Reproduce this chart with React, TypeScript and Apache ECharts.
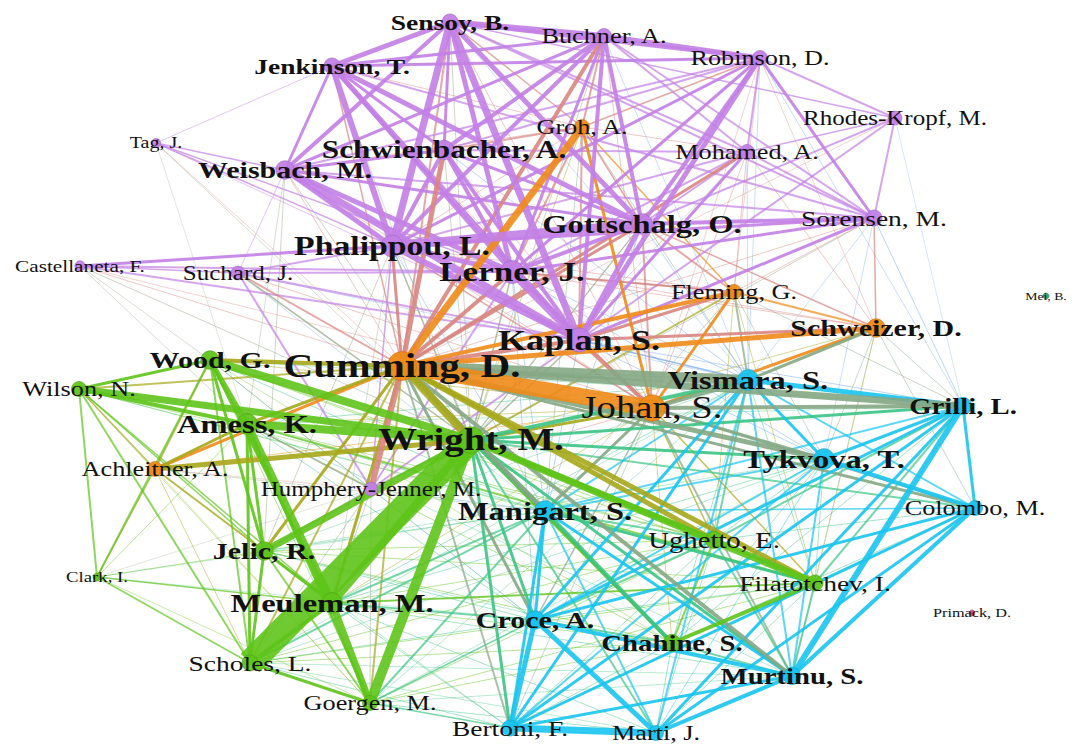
import React, { useEffect, useRef } from "react";
import * as echarts from "echarts";

// ---- Nodes (authors) ----
const nodeKeys = [
  "Sensoy", "Buchner", "Robinson", "Jenkinson", "RhodesKropf", "Tag", "Groh", "Mohamed",
  "Schwienbacher", "Weisbach", "Gottschalg", "Sorensen", "Phalippou", "Castellaneta", "Suchard",
  "Lerner", "Fleming", "Mei", "Schweizer", "Kaplan", "Wood", "Cumming", "Vismara", "Wilson",
  "Johan", "Grilli", "Amess", "Wright", "Tykvova", "Achleitner", "Humphery", "Manigart",
  "Colombo", "Ughetto", "Jelic", "Clark", "Filatotchev", "Meuleman", "Primack", "Croce",
  "Chahine", "Scholes", "Murtinu", "Goergen", "Bertoni", "Marti",
];
const nodeLabels = [
  "Sensoy, B.", "Buchner, A.", "Robinson, D.", "Jenkinson, T.", "Rhodes-Kropf, M.", "Tag, J.",
  "Groh, A.", "Mohamed, A.", "Schwienbacher, A.", "Weisbach, M.", "Gottschalg, O.", "Sorensen, M.",
  "Phalippou, L.", "Castellaneta, F.", "Suchard, J.", "Lerner, J.", "Fleming, G.", "Mei, B.",
  "Schweizer, D.", "Kaplan, S.", "Wood, G.", "Cumming, D.", "Vismara, S.", "Wilson, N.",
  "Johan, S.", "Grilli, L.", "Amess, K.", "Wright, M.", "Tykvova, T.", "Achleitner, A.",
  "Humphery-Jenner, M.", "Manigart, S.", "Colombo, M.", "Ughetto, E.", "Jelic, R.", "Clark, I.",
  "Filatotchev, I.", "Meuleman, M.", "Primack, D.", "Croce, A.", "Chahine, S.", "Scholes, L.",
  "Murtinu, S.", "Goergen, M.", "Bertoni, F.", "Marti, J.",
];
// layout coordinates of the network
const layoutX = [
  450, 604, 760, 332, 895, 156, 582, 747, 444, 285, 642, 874, 392, 80, 238, 512, 734, 1046, 876,
  579, 210, 402, 748, 79, 652, 963, 247, 471, 824, 155, 371, 545, 975, 714, 264, 97, 815, 332,
  972, 535, 672, 250, 792, 370, 510, 656,
];
const layoutY = [
  22, 36, 58, 66, 118, 143, 127, 152, 150, 170, 224, 218, 246, 266, 273, 272, 292, 296, 328, 340,
  360, 366, 380, 389, 408, 406, 424, 440, 459, 469, 489, 511, 508, 540, 551, 577, 583, 603, 613,
  620, 643, 663, 676, 703, 728, 733,
];
// cluster: 0 purple, 1 orange, 2 green, 3 cyan, 4 teal, 5 red
const nodeCluster = [
  0, 0, 0, 0, 0, 0, 1, 0, 0, 0, 0, 0, 0, 0, 0, 0, 1, 4, 1, 0, 2, 1, 3, 2, 1, 3, 2, 2, 3, 1, 0, 3,
  3, 2, 2, 2, 2, 2, 5, 3, 2, 2, 3, 2, 3, 3,
];
// node weight (citation strength)
const nodeWeight = [
  22, 21, 21, 22, 20, 16, 21, 21, 25, 24, 26, 22, 27, 17, 20, 28, 21, 11, 24, 29, 24, 33, 26, 21,
  31, 23, 26, 31, 26, 21, 20, 26, 21, 23, 24, 15, 22, 26, 13, 24, 23, 22, 23, 21, 22, 21,
];

// ---- Links (source, target, strength) ----
const links: [string, string, number][] = [
  // purple cluster
  ["Sensoy", "Buchner", 6], ["Sensoy", "Jenkinson", 5], ["Sensoy", "Robinson", 4], ["Sensoy", "Phalippou", 7],
  ["Sensoy", "Kaplan", 7], ["Sensoy", "Lerner", 5], ["Sensoy", "Weisbach", 4], ["Sensoy", "Gottschalg", 5],
  ["Sensoy", "Schwienbacher", 3], ["Sensoy", "Mohamed", 2], ["Sensoy", "Sorensen", 2], ["Sensoy", "RhodesKropf", 1.5],
  ["Sensoy", "Cumming", 2], ["Buchner", "Robinson", 5], ["Buchner", "Schwienbacher", 4], ["Buchner", "Cumming", 4],
  ["Buchner", "Jenkinson", 3], ["Buchner", "Phalippou", 4], ["Buchner", "Kaplan", 4], ["Buchner", "Lerner", 3],
  ["Buchner", "Gottschalg", 4], ["Buchner", "Weisbach", 3], ["Buchner", "Mohamed", 2], ["Buchner", "Sorensen", 2],
  ["Buchner", "Groh", 2], ["Robinson", "Jenkinson", 3], ["Robinson", "Kaplan", 5], ["Robinson", "Gottschalg", 4],
  ["Robinson", "Phalippou", 3], ["Robinson", "Sorensen", 3], ["Robinson", "RhodesKropf", 2], ["Robinson", "Lerner", 3],
  ["Robinson", "Mohamed", 2], ["Robinson", "Weisbach", 2], ["Robinson", "Schwienbacher", 2], ["Jenkinson", "Phalippou", 6],
  ["Jenkinson", "Kaplan", 5], ["Jenkinson", "Lerner", 4], ["Jenkinson", "Weisbach", 3], ["Jenkinson", "Gottschalg", 5],
  ["Jenkinson", "Schwienbacher", 3], ["Jenkinson", "Tag", 1], ["Jenkinson", "Sorensen", 2], ["Jenkinson", "Cumming", 1.5],
  ["Weisbach", "Phalippou", 5], ["Weisbach", "Kaplan", 7], ["Weisbach", "Lerner", 5], ["Weisbach", "Gottschalg", 3],
  ["Weisbach", "Tag", 1.5], ["Weisbach", "Schwienbacher", 3], ["Weisbach", "Sorensen", 2], ["Weisbach", "Suchard", 1],
  ["Tag", "Phalippou", 1.5], ["Tag", "Lerner", 1.5], ["Tag", "Kaplan", 1], ["Phalippou", "Gottschalg", 9],
  ["Phalippou", "Kaplan", 6], ["Phalippou", "Lerner", 5], ["Phalippou", "Castellaneta", 3], ["Phalippou", "Schwienbacher", 4],
  ["Phalippou", "Sorensen", 3], ["Phalippou", "Suchard", 2], ["Phalippou", "Mohamed", 2], ["Phalippou", "Cumming", 3],
  ["Lerner", "Kaplan", 8], ["Lerner", "Gottschalg", 4], ["Lerner", "Schwienbacher", 4], ["Lerner", "Castellaneta", 2],
  ["Lerner", "Suchard", 2], ["Lerner", "Cumming", 4], ["Lerner", "Mohamed", 2], ["Lerner", "Sorensen", 3],
  ["Kaplan", "Gottschalg", 5], ["Kaplan", "Schwienbacher", 4], ["Kaplan", "Sorensen", 3], ["Kaplan", "Mohamed", 3],
  ["Kaplan", "RhodesKropf", 2], ["Kaplan", "Castellaneta", 2], ["Kaplan", "Suchard", 2], ["Kaplan", "Cumming", 4],
  ["Kaplan", "Fleming", 3], ["Kaplan", "Schweizer", 3], ["Kaplan", "Johan", 4], ["Kaplan", "Humphery", 2],
  ["Gottschalg", "Sorensen", 4], ["Gottschalg", "Mohamed", 2], ["Gottschalg", "RhodesKropf", 2], ["Gottschalg", "Schwienbacher", 3],
  ["Sorensen", "RhodesKropf", 2], ["Sorensen", "Mohamed", 2], ["Schwienbacher", "Cumming", 5], ["Schwienbacher", "Mohamed", 2],
  ["Mohamed", "Cumming", 3], ["Mohamed", "RhodesKropf", 1.5], ["Castellaneta", "Suchard", 1.5], ["Castellaneta", "Cumming", 1],
  ["Castellaneta", "Wright", 1], ["Suchard", "Cumming", 2], ["Suchard", "Humphery", 2], ["Suchard", "Wright", 1.5],
  ["Humphery", "Cumming", 6], ["Humphery", "Wright", 2], ["Humphery", "Lerner", 2], ["Humphery", "Phalippou", 1.5],
  ["Humphery", "Jelic", 2], ["Humphery", "Amess", 1.5],
  // orange cluster
  ["Groh", "Cumming", 7], ["Groh", "Johan", 3], ["Groh", "Kaplan", 2], ["Groh", "Lerner", 2],
  ["Groh", "Schwienbacher", 2], ["Groh", "Fleming", 1.5], ["Cumming", "Johan", 16], ["Cumming", "Schweizer", 5],
  ["Cumming", "Fleming", 4], ["Cumming", "Achleitner", 3], ["Cumming", "Vismara", 10], ["Cumming", "Grilli", 7],
  ["Cumming", "Wright", 8], ["Cumming", "Wood", 4], ["Cumming", "Amess", 3], ["Cumming", "Manigart", 5],
  ["Cumming", "Tykvova", 5], ["Cumming", "Ughetto", 5], ["Cumming", "Filatotchev", 5], ["Cumming", "Murtinu", 4],
  ["Cumming", "Colombo", 3], ["Cumming", "Croce", 3], ["Cumming", "Chahine", 3], ["Cumming", "Meuleman", 3],
  ["Cumming", "Jelic", 3], ["Cumming", "Wilson", 2], ["Cumming", "Goergen", 2], ["Cumming", "Bertoni", 2],
  ["Cumming", "Scholes", 2], ["Cumming", "Gottschalg", 3], ["Johan", "Schweizer", 3], ["Johan", "Vismara", 4],
  ["Johan", "Grilli", 4], ["Johan", "Fleming", 3], ["Johan", "Tykvova", 3], ["Johan", "Wright", 3],
  ["Johan", "Manigart", 3], ["Johan", "Colombo", 2], ["Johan", "Murtinu", 2], ["Schweizer", "Fleming", 2],
  ["Schweizer", "Vismara", 3], ["Schweizer", "Sorensen", 1.5], ["Schweizer", "Gottschalg", 1.5], ["Fleming", "Gottschalg", 2],
  ["Fleming", "Lerner", 2], ["Fleming", "Vismara", 2], ["Fleming", "Wright", 2], ["Achleitner", "Amess", 3],
  ["Achleitner", "Wright", 5], ["Achleitner", "Wood", 2], ["Achleitner", "Clark", 1.5], ["Achleitner", "Jelic", 2],
  ["Achleitner", "Wilson", 1.5],
  // green cluster
  ["Wright", "Wood", 8], ["Wright", "Wilson", 7], ["Wright", "Amess", 8], ["Wright", "Meuleman", 8],
  ["Wright", "Scholes", 26], ["Wright", "Goergen", 10], ["Wright", "Jelic", 7], ["Wright", "Filatotchev", 7],
  ["Wright", "Ughetto", 5], ["Wright", "Chahine", 3], ["Wright", "Manigart", 4], ["Wright", "Croce", 3],
  ["Wright", "Bertoni", 3], ["Wright", "Tykvova", 3], ["Wright", "Vismara", 4], ["Wright", "Grilli", 3],
  ["Wright", "Murtinu", 3], ["Wright", "Marti", 2], ["Wright", "Colombo", 2], ["Amess", "Wilson", 4],
  ["Amess", "Jelic", 3], ["Amess", "Meuleman", 8], ["Amess", "Scholes", 3], ["Amess", "Wood", 5],
  ["Amess", "Goergen", 3], ["Amess", "Filatotchev", 2], ["Wood", "Wilson", 3], ["Wood", "Jelic", 3],
  ["Wood", "Meuleman", 3], ["Wood", "Scholes", 2], ["Wilson", "Clark", 2], ["Wilson", "Scholes", 2],
  ["Wilson", "Jelic", 1.5], ["Wilson", "Meuleman", 1.5], ["Clark", "Scholes", 1.5], ["Clark", "Meuleman", 1.5],
  ["Clark", "Wood", 2], ["Meuleman", "Scholes", 4], ["Meuleman", "Goergen", 7], ["Meuleman", "Jelic", 3],
  ["Meuleman", "Manigart", 2], ["Meuleman", "Croce", 2], ["Meuleman", "Filatotchev", 2], ["Jelic", "Scholes", 3],
  ["Jelic", "Goergen", 2], ["Scholes", "Goergen", 3], ["Goergen", "Bertoni", 1.5], ["Goergen", "Croce", 1.5],
  ["Manigart", "Croce", 3], ["Manigart", "Chahine", 4], ["Manigart", "Murtinu", 3], ["Manigart", "Bertoni", 3],
  ["Manigart", "Marti", 2], ["Manigart", "Filatotchev", 3], ["Manigart", "Ughetto", 2], ["Manigart", "Scholes", 2],
  ["Manigart", "Goergen", 2], ["Filatotchev", "Chahine", 4], ["Filatotchev", "Ughetto", 3], ["Filatotchev", "Murtinu", 2],
  ["Filatotchev", "Grilli", 2], ["Chahine", "Ughetto", 2], ["Chahine", "Croce", 2], ["Chahine", "Murtinu", 2],
  ["Ughetto", "Grilli", 2], ["Ughetto", "Croce", 2], ["Ughetto", "Murtinu", 2], ["Ughetto", "Vismara", 2],
  // cyan cluster
  ["Croce", "Bertoni", 5], ["Croce", "Marti", 5], ["Croce", "Murtinu", 4], ["Croce", "Grilli", 3],
  ["Croce", "Colombo", 3], ["Croce", "Vismara", 3], ["Bertoni", "Marti", 7], ["Bertoni", "Murtinu", 3],
  ["Bertoni", "Grilli", 3], ["Bertoni", "Colombo", 3], ["Bertoni", "Vismara", 3], ["Marti", "Murtinu", 4],
  ["Marti", "Grilli", 3], ["Marti", "Colombo", 3], ["Marti", "Vismara", 2], ["Murtinu", "Grilli", 6],
  ["Murtinu", "Colombo", 4], ["Murtinu", "Vismara", 2], ["Murtinu", "Tykvova", 2], ["Grilli", "Colombo", 3],
  ["Grilli", "Tykvova", 3], ["Grilli", "Vismara", 5], ["Colombo", "Tykvova", 4], ["Colombo", "Vismara", 2],
  ["Tykvova", "Vismara", 3], ["Tykvova", "Croce", 2], ["Tykvova", "Bertoni", 2], ["Tykvova", "Manigart", 2],
  ["Vismara", "Manigart", 2], ["Grilli", "Manigart", 2], ["Colombo", "Manigart", 1.5],
  // weak cross links
  ["Tag", "Cumming", 0.8], ["Tag", "Wright", 0.8], ["Castellaneta", "Wood", 0.8], ["Castellaneta", "Amess", 0.8],
  ["Castellaneta", "Johan", 0.8], ["Suchard", "Manigart", 0.8], ["Suchard", "Johan", 1], ["Suchard", "Vismara", 0.8],
  ["Weisbach", "Wright", 1], ["Weisbach", "Cumming", 1], ["Jenkinson", "Wright", 0.8], ["Sensoy", "Wright", 1],
  ["Sensoy", "Vismara", 0.8], ["Buchner", "Vismara", 0.8], ["Buchner", "Wright", 1], ["Robinson", "Vismara", 0.8],
  ["Robinson", "Cumming", 1], ["Robinson", "Grilli", 0.8], ["RhodesKropf", "Cumming", 0.8], ["RhodesKropf", "Grilli", 0.6],
  ["Sorensen", "Cumming", 1], ["Sorensen", "Vismara", 0.8], ["Sorensen", "Grilli", 1], ["Sorensen", "Wright", 1],
  ["Sorensen", "Tykvova", 0.8], ["Mohamed", "Wright", 0.8], ["Mohamed", "Vismara", 0.8], ["Gottschalg", "Wright", 1.2],
  ["Gottschalg", "Vismara", 1], ["Gottschalg", "Manigart", 1], ["Lerner", "Wright", 1.5], ["Lerner", "Vismara", 1],
  ["Lerner", "Manigart", 1], ["Lerner", "Croce", 1], ["Lerner", "Tykvova", 1], ["Kaplan", "Wright", 1.5],
  ["Kaplan", "Vismara", 1.5], ["Kaplan", "Manigart", 1], ["Kaplan", "Grilli", 1], ["Kaplan", "Tykvova", 1],
  ["Phalippou", "Wright", 1.5], ["Phalippou", "Jelic", 1], ["Phalippou", "Meuleman", 0.8], ["Phalippou", "Manigart", 1],
  ["Schwienbacher", "Wright", 1], ["Schwienbacher", "Vismara", 1], ["Schwienbacher", "Johan", 1], ["Groh", "Wright", 1],
  ["Groh", "Vismara", 1], ["Groh", "Manigart", 1], ["Fleming", "Grilli", 1], ["Fleming", "Tykvova", 1],
  ["Fleming", "Manigart", 1], ["Fleming", "Ughetto", 1], ["Fleming", "Filatotchev", 1], ["Schweizer", "Grilli", 1],
  ["Schweizer", "Tykvova", 1], ["Schweizer", "Colombo", 1], ["Schweizer", "Wright", 1], ["Schweizer", "Murtinu", 0.8],
  ["Schweizer", "Filatotchev", 0.8], ["Johan", "Ughetto", 1.5], ["Johan", "Filatotchev", 1.5], ["Johan", "Croce", 1.5],
  ["Johan", "Bertoni", 1], ["Johan", "Chahine", 1], ["Johan", "Amess", 1], ["Johan", "Wood", 1],
  ["Johan", "Meuleman", 1], ["Vismara", "Filatotchev", 1], ["Vismara", "Chahine", 1], ["Vismara", "Wood", 1],
  ["Vismara", "Amess", 1], ["Tykvova", "Ughetto", 1], ["Tykvova", "Filatotchev", 1], ["Tykvova", "Chahine", 1],
  ["Tykvova", "Marti", 1], ["Tykvova", "Jelic", 0.8], ["Grilli", "Chahine", 1],
  ["Grilli", "Wood", 0.8], ["Grilli", "Amess", 0.8], ["Colombo", "Ughetto", 1], ["Colombo", "Filatotchev", 1],
  ["Colombo", "Chahine", 1], ["Croce", "Scholes", 1], ["Croce", "Jelic", 1], ["Croce", "Amess", 1],
  ["Croce", "Wood", 0.8], ["Croce", "Filatotchev", 1], ["Bertoni", "Scholes", 1], ["Bertoni", "Meuleman", 1],
  ["Bertoni", "Jelic", 0.8], ["Bertoni", "Chahine", 1], ["Bertoni", "Ughetto", 1], ["Bertoni", "Filatotchev", 1],
  ["Marti", "Scholes", 0.8], ["Marti", "Meuleman", 1], ["Marti", "Goergen", 1], ["Marti", "Chahine", 1],
  ["Marti", "Ughetto", 1], ["Marti", "Filatotchev", 1], ["Murtinu", "Meuleman", 1], ["Murtinu", "Jelic", 0.8],
  ["Murtinu", "Scholes", 0.8], ["Murtinu", "Goergen", 0.8], ["Murtinu", "Amess", 0.8], ["Chahine", "Meuleman", 1],
  ["Chahine", "Scholes", 1], ["Chahine", "Goergen", 1], ["Chahine", "Jelic", 1], ["Chahine", "Amess", 1],
  ["Chahine", "Wood", 0.8], ["Ughetto", "Meuleman", 1], ["Ughetto", "Scholes", 1], ["Ughetto", "Goergen", 1],
  ["Ughetto", "Jelic", 1], ["Ughetto", "Amess", 1], ["Ughetto", "Wood", 1], ["Ughetto", "Wilson", 0.8],
  ["Filatotchev", "Meuleman", 1], ["Filatotchev", "Scholes", 1], ["Filatotchev", "Goergen", 1], ["Filatotchev", "Jelic", 1],
  ["Filatotchev", "Wood", 1], ["Filatotchev", "Wilson", 0.8], ["Manigart", "Jelic", 1], ["Manigart", "Wood", 1],
  ["Manigart", "Amess", 1], ["Manigart", "Wilson", 0.8], ["Goergen", "Tykvova", 0.8], ["Goergen", "Vismara", 0.8],
  ["Scholes", "Tykvova", 0.8], ["Scholes", "Vismara", 0.8], ["Meuleman", "Vismara", 1], ["Meuleman", "Tykvova", 1],
  ["Jelic", "Vismara", 0.8], ["Clark", "Jelic", 1], ["Clark", "Amess", 1], ["Clark", "Goergen", 0.8],
  ["Clark", "Croce", 0.6], ["Clark", "Manigart", 0.6], ["Clark", "Humphery", 0.6], ["Wilson", "Goergen", 0.8],
  ["Wood", "Goergen", 1], ["Humphery", "Meuleman", 1], ["Humphery", "Scholes", 1], ["Humphery", "Goergen", 1],
  ["Humphery", "Manigart", 1], ["Humphery", "Croce", 0.8], ["Humphery", "Johan", 1], ["Achleitner", "Meuleman", 1],
  ["Achleitner", "Scholes", 1], ["Achleitner", "Goergen", 0.8], ["Achleitner", "Johan", 1], ["Achleitner", "Manigart", 0.8],
  ["Achleitner", "Humphery", 0.8], ["Wood", "Humphery", 1], ["Weisbach", "Jelic", 1], ["Weisbach", "Amess", 0.8],
  ["Tag", "Amess", 0.6], ["Jenkinson", "Johan", 0.8], ["Sensoy", "Johan", 1], ["Buchner", "Johan", 1],
  ["Robinson", "Johan", 0.8], ["Mohamed", "Johan", 1], ["Mohamed", "Fleming", 1], ["Gottschalg", "Johan", 2],
  ["Gottschalg", "Groh", 1.5], ["Lerner", "Johan", 2], ["Lerner", "Fleming", 1.5], ["Phalippou", "Johan", 1.5],
  ["Phalippou", "Groh", 1], ["Weisbach", "Johan", 1], ["Weisbach", "Groh", 1], ["Jenkinson", "Groh", 1],
  ["Sensoy", "Groh", 1.5], ["Robinson", "Groh", 1.5], ["Mohamed", "Groh", 1], ["Schweizer", "Lerner", 1],
  ["Schweizer", "Phalippou", 1], ["Schweizer", "Robinson", 0.8], ["Schweizer", "Mohamed", 1], ["Fleming", "Sorensen", 1],
  ["Fleming", "Robinson", 0.8], ["Fleming", "Phalippou", 1],
];

// ---- styling ----
const clusterColors = ["#c27fe6", "#ef8a17", "#5ec41a", "#18c4f0", "#2a9d6f", "#d4466e"];
const boldKeys = new Set([
  "Sensoy", "Jenkinson", "Weisbach", "Schwienbacher", "Gottschalg", "Phalippou", "Lerner", "Kaplan",
  "Schweizer", "Wood", "Cumming", "Vismara", "Grilli", "Amess", "Wright", "Tykvova", "Manigart",
  "Jelic", "Meuleman", "Croce", "Chahine", "Murtinu",
]);
const LABEL_STRETCH = 1.25;

function hexToRgb(h: string): number[] {
  const v = parseInt(h.slice(1), 16);
  return [(v >> 16) & 255, (v >> 8) & 255, v & 255];
}
function mix(a: string, b: string): string {
  const x = hexToRgb(a);
  const y = hexToRgb(b);
  return `rgb(${Math.round((x[0] + y[0]) / 2)},${Math.round((x[1] + y[1]) / 2)},${Math.round((x[2] + y[2]) / 2)})`;
}
function darker(h: string): string {
  const x = hexToRgb(h);
  return `rgb(${Math.round(x[0] * 0.8)},${Math.round(x[1] * 0.8)},${Math.round(x[2] * 0.8)})`;
}

export default function App() {
  const ref = useRef<HTMLDivElement>(null);

  useEffect(() => {
    document.body.style.margin = "0";
    if (!ref.current) return;
    const chart = echarts.init(ref.current, undefined, { renderer: "svg" });
    const indexOf: Record<string, number> = {};
    nodeKeys.forEach((k, i) => (indexOf[k] = i));

    const nodes = nodeKeys.map((k, i) => {
      const c = clusterColors[nodeCluster[i]];
      return {
        name: k,
        value: [layoutX[i], layoutY[i]],
        symbolSize: Math.max(6, (nodeWeight[i] - 8) * 1.15),
        itemStyle: { color: c, borderColor: darker(c), borderWidth: 0.6, opacity: 0.95 },
      };
    });

    const sorted = [...links].sort((a, b) => a[2] - b[2]);
    const edges = sorted.map(([s, t, w]) => {
      const si = indexOf[s];
      const ti = indexOf[t];
      const col = mix(clusterColors[nodeCluster[si]], clusterColors[nodeCluster[ti]]);
      return {
        source: si,
        target: ti,
        lineStyle: {
          width: w,
          color: col,
          opacity: w <= 1 ? 0.45 : w < 3 ? 0.7 : 0.9,
          curveness: 0,
        },
      };
    });

    chart.setOption({
      animation: false,
      backgroundColor: "#ffffff",
      grid: { left: 0, right: 0, top: 0, bottom: 0 },
      xAxis: { type: "value", min: 0, max: 1073, show: false },
      yAxis: { type: "value", min: 0, max: 745, inverse: true, show: false },
      series: [
        {
          type: "graph",
          coordinateSystem: "cartesian2d",
          data: nodes,
          links: edges,
          label: { show: false },
          emphasis: { disabled: true },
          silent: true,
        },
      ],
    });

    const elements = nodeKeys.map((k, i) => {
      const p = chart.convertToPixel({ gridIndex: 0 }, [layoutX[i], layoutY[i]]) as number[];
      return {
        type: "text",
        x: p[0],
        y: p[1],
        scaleX: LABEL_STRETCH,
        z: 100,
        silent: true,
        style: {
          text: nodeLabels[i],
          fill: "#111111",
          fontFamily: '"Liberation Serif", "Times New Roman", serif',
          fontSize: nodeWeight[i],
          fontWeight: boldKeys.has(k) ? "bold" : "normal",
          align: "center",
          verticalAlign: "middle",
        },
      };
    });
    chart.setOption({ graphic: { elements } });

    return () => chart.dispose();
  }, []);

  return <div ref={ref} style={{ width: 1073, height: 745 }} />;
}
